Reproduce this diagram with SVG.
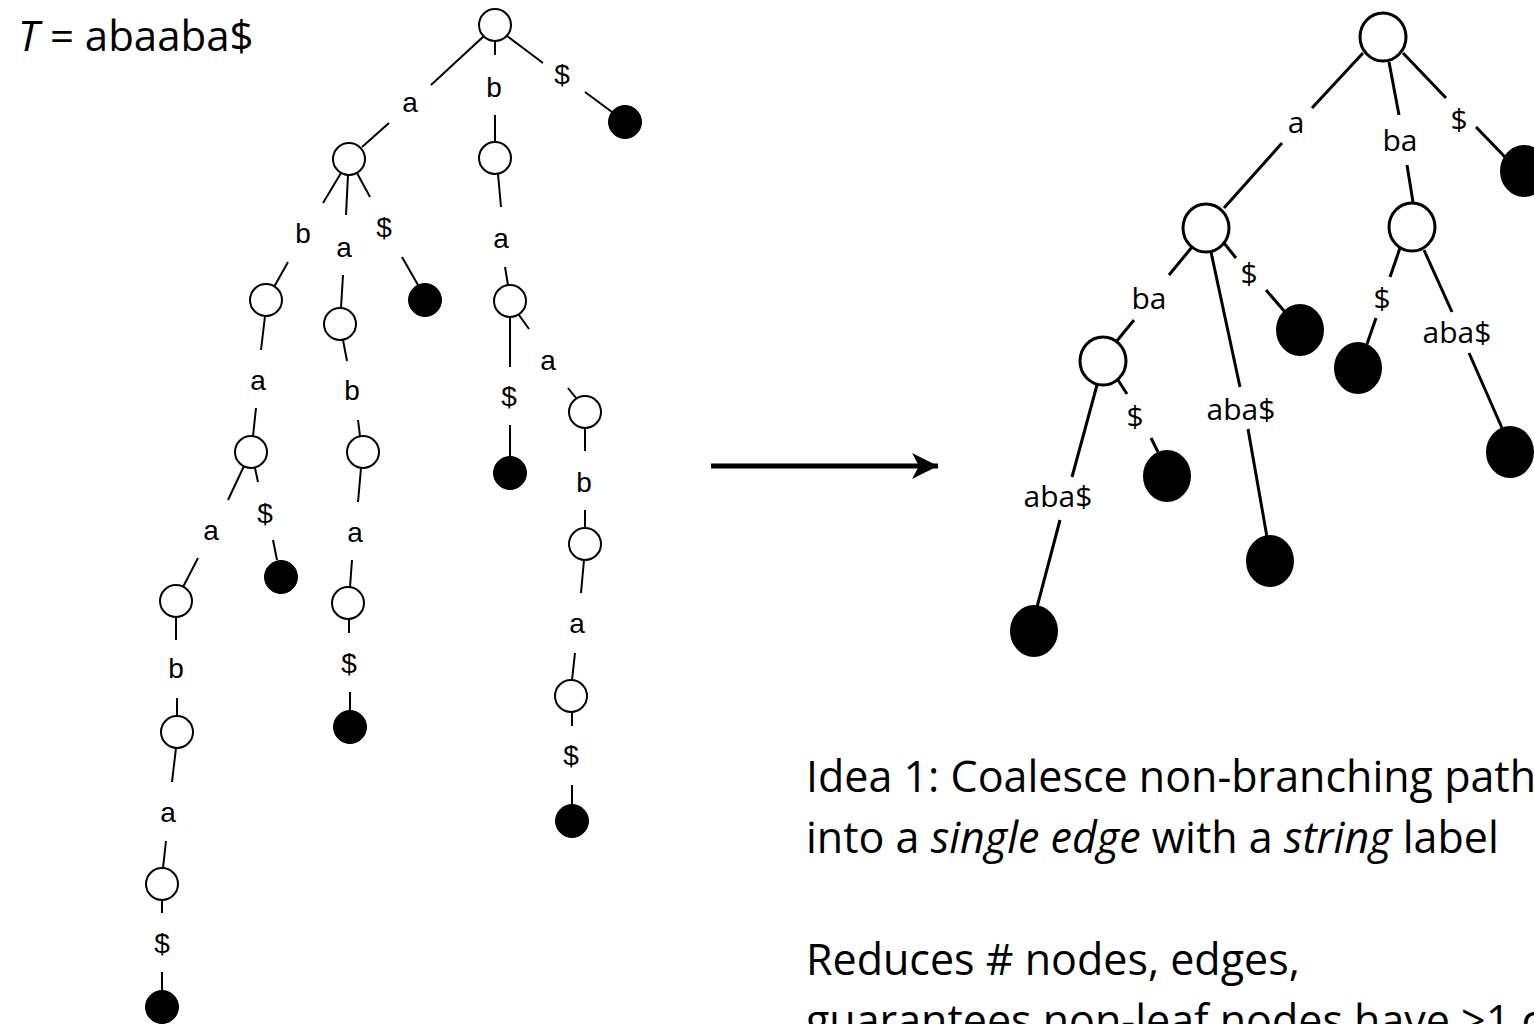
<svg xmlns="http://www.w3.org/2000/svg" width="1534" height="1024" viewBox="0 0 1534 1024">
  <defs>
    <style>
      .bg { fill: #ffffff; }
      .e1 { stroke: #000; stroke-width: 2; fill: none; }
      .e2 { stroke: #000; stroke-width: 3; fill: none; }
      .n1 { fill: #ffffff; stroke: #000; stroke-width: 2; }
      .f1 { fill: #000; stroke: #000; stroke-width: 1; }
      .n2 { fill: #ffffff; stroke: #000; stroke-width: 3; }
      .f2 { fill: #000; stroke: #000; stroke-width: 2; }
      .lab1 { font-family: "Liberation Sans", Arial, sans-serif; font-size: 28px; fill: #000; text-anchor: middle; }
      .lab2 { font-family: "Open Sans", "Noto Sans", sans-serif; font-size: 30px; fill: #000; text-anchor: middle; }
      .title { font-family: "Open Sans", "Noto Sans", sans-serif; font-size: 42px; fill: #000; }
      .body { font-family: "Open Sans", "Noto Sans", sans-serif; font-size: 43px; fill: #000; }
      .it { font-style: italic; }
    </style>
    <marker id="arrowhead" markerUnits="userSpaceOnUse" markerWidth="30" markerHeight="30" refX="26" refY="13" orient="auto">
      <path d="M26,13 L0,0 L7,13 L0,26 Z" fill="#000"/>
    </marker>
  </defs>

  <rect class="bg" x="0" y="0" width="1534" height="1024"/>

  <text id="title" class="title" x="18" y="51"><tspan class="it">T</tspan> = abaaba$</text>

  <!-- suffix trie: edges, each broken around its character label -->
  <g id="trie-connectors">
    <g id="t-root-A"><path class="e1" d="M484,36 L431,85 M389,123 L362,147"/><text class="lab1" x="410" y="112">a</text></g>
    <g id="t-root-Nb"><path class="e1" d="M495,41 L495,55 M495,115 L495,142"/><text class="lab1" x="494" y="97">b</text></g>
    <g id="t-root-L1"><path class="e1" d="M507,36 L543,63 M585,92 L612,112"/><text class="lab1" x="562" y="84">$</text></g>

    <g id="t-A-B1"><path class="e1" d="M341,173 L323,203 M288,262 L274,287"/><text class="lab1" x="303" y="243">b</text></g>
    <g id="t-A-B2"><path class="e1" d="M348,175 L346,215 M343,275 L341,308"/><text class="lab1" x="344" y="257">a</text></g>
    <g id="t-A-L2"><path class="e1" d="M357,173 L370,197 M402,257 L418,285"/><text class="lab1" x="384" y="237">$</text></g>

    <g id="t-Nb-C"><path class="e1" d="M498,174 L501,207 M505,267 L508,285"/><text class="lab1" x="501" y="248">a</text></g>

    <g id="t-B1-D1"><path class="e1" d="M265,316 L261,350 M256,408 L253,436"/><text class="lab1" x="258" y="390">a</text></g>
    <g id="t-D1-E1"><path class="e1" d="M244,466 L228,500 M198,558 L183,587"/><text class="lab1" x="211" y="540">a</text></g>
    <g id="t-D1-L3"><path class="e1" d="M255,468 L258,482 M273,540 L277,560"/><text class="lab1" x="265" y="523">$</text></g>
    <g id="t-E1-K"><path class="e1" d="M176,617 L176,640 M177,698 L177,716"/><text class="lab1" x="176" y="678">b</text></g>
    <g id="t-K-L"><path class="e1" d="M176,748 L172,782 M166,841 L163,868"/><text class="lab1" x="168" y="822">a</text></g>
    <g id="t-L-L4"><path class="e1" d="M162,900 L162,913 M162,972 L162,990"/><text class="lab1" x="162" y="953">$</text></g>

    <g id="t-B2-D2"><path class="e1" d="M343,340 L347,361 M358,420 L360,436"/><text class="lab1" x="352" y="400">b</text></g>
    <g id="t-D2-E2"><path class="e1" d="M361,468 L358,502 M352,560 L350,587"/><text class="lab1" x="355" y="542">a</text></g>
    <g id="t-E2-L5"><path class="e1" d="M349,619 L349,633 M350,692 L350,710"/><text class="lab1" x="349" y="673">$</text></g>

    <g id="t-C-L6"><path class="e1" d="M510,317 L510,367 M510,425 L510,456"/><text class="lab1" x="509" y="406">$</text></g>
    <g id="t-C-H"><path class="e1" d="M519,315 L529,329 M568,388 L576,398"/><text class="lab1" x="548" y="370">a</text></g>
    <g id="t-H-I"><path class="e1" d="M585,428 L585,451 M585,510 L585,528"/><text class="lab1" x="584" y="492">b</text></g>
    <g id="t-I-J"><path class="e1" d="M584,560 L581,593 M575,653 L572,680"/><text class="lab1" x="577" y="633">a</text></g>
    <g id="t-J-L7"><path class="e1" d="M572,712 L572,726 M572,785 L572,804"/><text class="lab1" x="571" y="765">$</text></g>
  </g>

  <!-- suffix trie: nodes -->
  <g id="t-root"><circle class="n1" cx="495" cy="25" r="16"/></g>
  <g id="t-A"><circle class="n1" cx="349" cy="159" r="16"/></g>
  <g id="t-Nb"><circle class="n1" cx="495" cy="158" r="16"/></g>
  <g id="t-C"><circle class="n1" cx="510" cy="301" r="16"/></g>
  <g id="t-B1"><circle class="n1" cx="266" cy="300" r="16"/></g>
  <g id="t-B2"><circle class="n1" cx="340" cy="324" r="16"/></g>
  <g id="t-D1"><circle class="n1" cx="251" cy="452" r="16"/></g>
  <g id="t-D2"><circle class="n1" cx="363" cy="452" r="16"/></g>
  <g id="t-E1"><circle class="n1" cx="176" cy="601" r="16"/></g>
  <g id="t-E2"><circle class="n1" cx="348" cy="603" r="16"/></g>
  <g id="t-H"><circle class="n1" cx="585" cy="412" r="16"/></g>
  <g id="t-I"><circle class="n1" cx="585" cy="544" r="16"/></g>
  <g id="t-K"><circle class="n1" cx="177" cy="732" r="16"/></g>
  <g id="t-L"><circle class="n1" cx="162" cy="884" r="16"/></g>
  <g id="t-J"><circle class="n1" cx="571" cy="696" r="16"/></g>
  <g id="t-L1"><circle class="f1" cx="625" cy="122" r="16.5"/></g>
  <g id="t-L2"><circle class="f1" cx="425" cy="300" r="16.5"/></g>
  <g id="t-L3"><circle class="f1" cx="281" cy="577" r="16.5"/></g>
  <g id="t-L4"><circle class="f1" cx="162" cy="1007" r="16.5"/></g>
  <g id="t-L5"><circle class="f1" cx="350" cy="727" r="16.5"/></g>
  <g id="t-L6"><circle class="f1" cx="510" cy="473" r="16.5"/></g>
  <g id="t-L7"><circle class="f1" cx="572" cy="821" r="16.5"/></g>

  <!-- transformation arrow -->
  <g id="arrow-connector">
    <line x1="711" y1="466" x2="938" y2="466" stroke="#000" stroke-width="5" marker-end="url(#arrowhead)"/>
  </g>

  <!-- compacted tree: edges with string labels -->
  <g id="tree-connectors">
    <g id="s-root-P"><path class="e2" d="M1363,53 L1312,108 M1282,143 L1224,208"/><text class="lab2" x="1296" y="133">a</text></g>
    <g id="s-root-Q"><path class="e2" d="M1389,62 L1399,115 M1407,165 L1413,202"/><text class="lab2" x="1400" y="151">ba</text></g>
    <g id="s-root-L1"><path class="e2" d="M1403,53 L1446,98 M1476,127 L1505,157"/><text class="lab2" x="1459" y="130">$</text></g>
    <g id="s-P-R"><path class="e2" d="M1192,247 L1169,275 M1134,320 L1116,342"/><text class="lab2" x="1149" y="309">ba</text></g>
    <g id="s-P-S"><path class="e2" d="M1211,252 L1240,387 M1248,429 L1267,537"/><text class="lab2" x="1241" y="420">aba$</text></g>
    <g id="s-P-T"><path class="e2" d="M1224,243 L1236,258 M1266,290 L1285,312"/><text class="lab2" x="1249" y="284">$</text></g>
    <g id="s-Q-U"><path class="e2" d="M1400,248 L1390,277 M1376,318 L1367,344"/><text class="lab2" x="1382" y="309">$</text></g>
    <g id="s-Q-V"><path class="e2" d="M1424,250 L1452,312 M1469,353 L1502,428"/><text class="lab2" x="1457" y="343">aba$</text></g>
    <g id="s-R-W"><path class="e2" d="M1097,385 L1072,477 M1060,520 L1037,607"/><text class="lab2" x="1058" y="507">aba$</text></g>
    <g id="s-R-X"><path class="e2" d="M1118,380 L1127,394 M1151,438 L1158,452"/><text class="lab2" x="1135" y="427">$</text></g>
  </g>

  <!-- compacted tree: nodes -->
  <g id="s-root"><ellipse class="n2" cx="1383" cy="37" rx="23" ry="24"/></g>
  <g id="s-P"><ellipse class="n2" cx="1206" cy="228" rx="23" ry="24"/></g>
  <g id="s-Q"><ellipse class="n2" cx="1412" cy="227" rx="23" ry="24"/></g>
  <g id="s-R"><ellipse class="n2" cx="1103" cy="361" rx="23" ry="24"/></g>
  <g id="s-L1"><ellipse class="f2" cx="1524" cy="171" rx="23" ry="25"/></g>
  <g id="s-T"><ellipse class="f2" cx="1300" cy="330" rx="23" ry="25"/></g>
  <g id="s-U"><ellipse class="f2" cx="1358" cy="368" rx="23" ry="25"/></g>
  <g id="s-S"><ellipse class="f2" cx="1270" cy="561" rx="23" ry="25"/></g>
  <g id="s-V"><ellipse class="f2" cx="1510" cy="452" rx="23" ry="25"/></g>
  <g id="s-W"><ellipse class="f2" cx="1034" cy="631" rx="23" ry="25"/></g>
  <g id="s-X"><ellipse class="f2" cx="1167" cy="476" rx="23" ry="25"/></g>

  <!-- explanatory text; it runs on past the right and bottom edges of the page -->
  <g id="notes">
    <text class="body" x="806" y="792">Idea 1: Coalesce non-branching paths</text>
    <text class="body" x="806" y="853">into a <tspan class="it">single edge</tspan> with a <tspan class="it">string</tspan> label</text>
    <text class="body" x="806" y="975">Reduces # nodes, edges,</text>
    <text class="body" x="806" y="1036">guarantees non-leaf nodes have &gt;1 child</text>
  </g>
</svg>
